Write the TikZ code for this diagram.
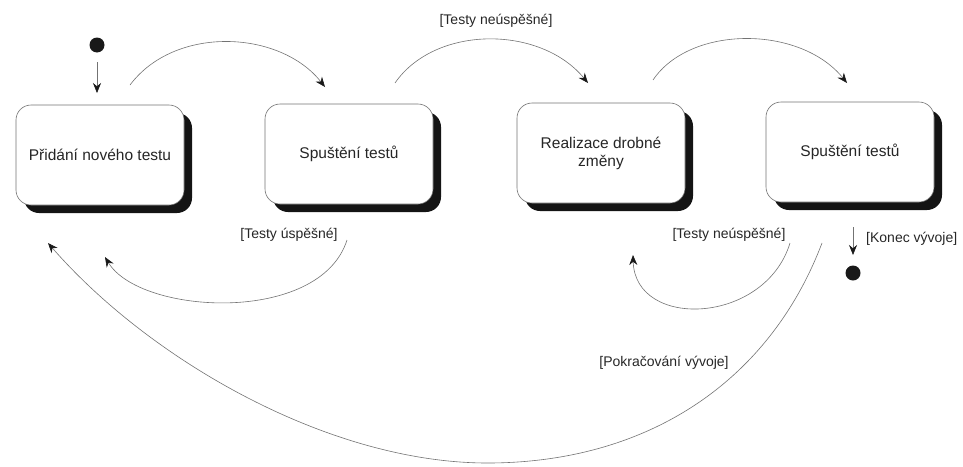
\documentclass[tikz,border=0pt]{standalone}
\usepackage{fontspec}
\setmainfont{Liberation Sans}
\usetikzlibrary{arrows.meta,shadows}
\begin{document}
\begin{tikzpicture}[x=1pt,y=-1pt,
  state/.style={draw=black!55, line width=0.6pt, fill=white, rounded corners=15pt,
    minimum width=168pt, minimum height=100pt, align=center, text=black!85,
    font=\fontsize{15.5}{18}\selectfont,
    drop shadow={shadow xshift=8pt, shadow yshift=-8pt, fill=black!92, opacity=1}},
  dot/.style={circle, fill=black!90, inner sep=0pt, minimum size=15pt},
  arr/.style={draw=black!55, line width=0.6pt, -{Stealth[length=10pt,width=8pt,color=black!90]}},
  lbl/.style={text=black!85, font=\fontsize{14}{17}\selectfont, inner sep=0pt}]
\useasboundingbox (0,0) rectangle (963,466);
% states
\node[state] (b1) at (100,155) {Přidání nového testu};
\node[state] (b2) at (349,154) {Spuštění testů};
\node[state] (b3) at (601,153) {Realizace drobné\\změny};
\node[state] (b4) at (850,152) {Spuštění testů};
% start / end
\node[dot] (s) at (97,45) {};
\node[dot] (e) at (853,273) {};
\coordinate (s1) at (97,62);
\coordinate (s2) at (97,93);
\coordinate (e1) at (853,227);
\coordinate (e2) at (853,255);
% endpoints
\coordinate (p1) at (130,85);   \coordinate (q1) at (325,87);
\coordinate (p2) at (395,83);   \coordinate (q2) at (588,83);
\coordinate (p3) at (653,80);   \coordinate (q3) at (847,83);
\coordinate (p4) at (347,240);  \coordinate (q4) at (105,257);
\coordinate (p5) at (790,243);  \coordinate (q5) at (633,255);
\coordinate (p6) at (822,243);  \coordinate (m6) at (490,463); \coordinate (q6) at (48,243);
% connectors
\draw[arr] (s1) -- (s2);
\draw[arr] (e1) -- (e2);
\draw[arr] (p1) .. controls (175,25) and (280,30) .. (q1);
\draw[arr] (p2) .. controls (435,25) and (540,25) .. (q2);
\draw[arr] (p3) .. controls (690,25) and (800,25) .. (q3);
\draw[arr] (p4) .. controls (320,325) and (140,315) .. (q4);
\draw[arr] (p5) .. controls (765,325) and (635,330) .. (q5);
\draw[arr] (p6) .. controls (770,380) and (650,462) .. (m6)
               .. controls (330,464) and (150,360) .. (q6);
% labels
\node[lbl] (l1) at (496,21) {[Testy neúspěšné]};
\node[lbl] (l2) at (289,235) {[Testy úspěšné]};
\node[lbl] (l3) at (729,235) {[Testy neúspěšné]};
\node[lbl, anchor=west] (l4) at (866,239) {[Konec vývoje]};
\node[lbl] (l5) at (664,363) {[Pokračování vývoje]};
\end{tikzpicture}
\end{document}
